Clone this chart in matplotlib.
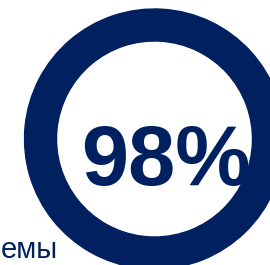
import matplotlib
matplotlib.use("Agg")
import matplotlib.pyplot as plt

# data
value = 98
remaining = 100 - value
label = f"{value}%"
caption = "емы"

navy = "#002060"

W, H = 270, 265
fig = plt.figure(figsize=(W / 100, H / 100), dpi=100)
ax = fig.add_axes([0, 0, 1, 1])

ax.pie([value, remaining], colors=[navy, navy], radius=130, center=(154.5, 139),
       startangle=90, counterclock=False,
       wedgeprops=dict(width=32, linewidth=1.0, edgecolor=navy))

ax.set_xlim(0, W)
ax.set_ylim(H, 0)
ax.set_aspect("auto")
ax.axis("off")

ax.text(166, 185, label, ha="center", va="baseline", fontsize=61,
        fontweight="bold", family="Liberation Sans", color=navy)
ax.text(1, 264.5, caption, ha="left", va="bottom", fontsize=21,
        family="Liberation Sans", color=navy)

fig.savefig("out.png", dpi=100, facecolor="white")
